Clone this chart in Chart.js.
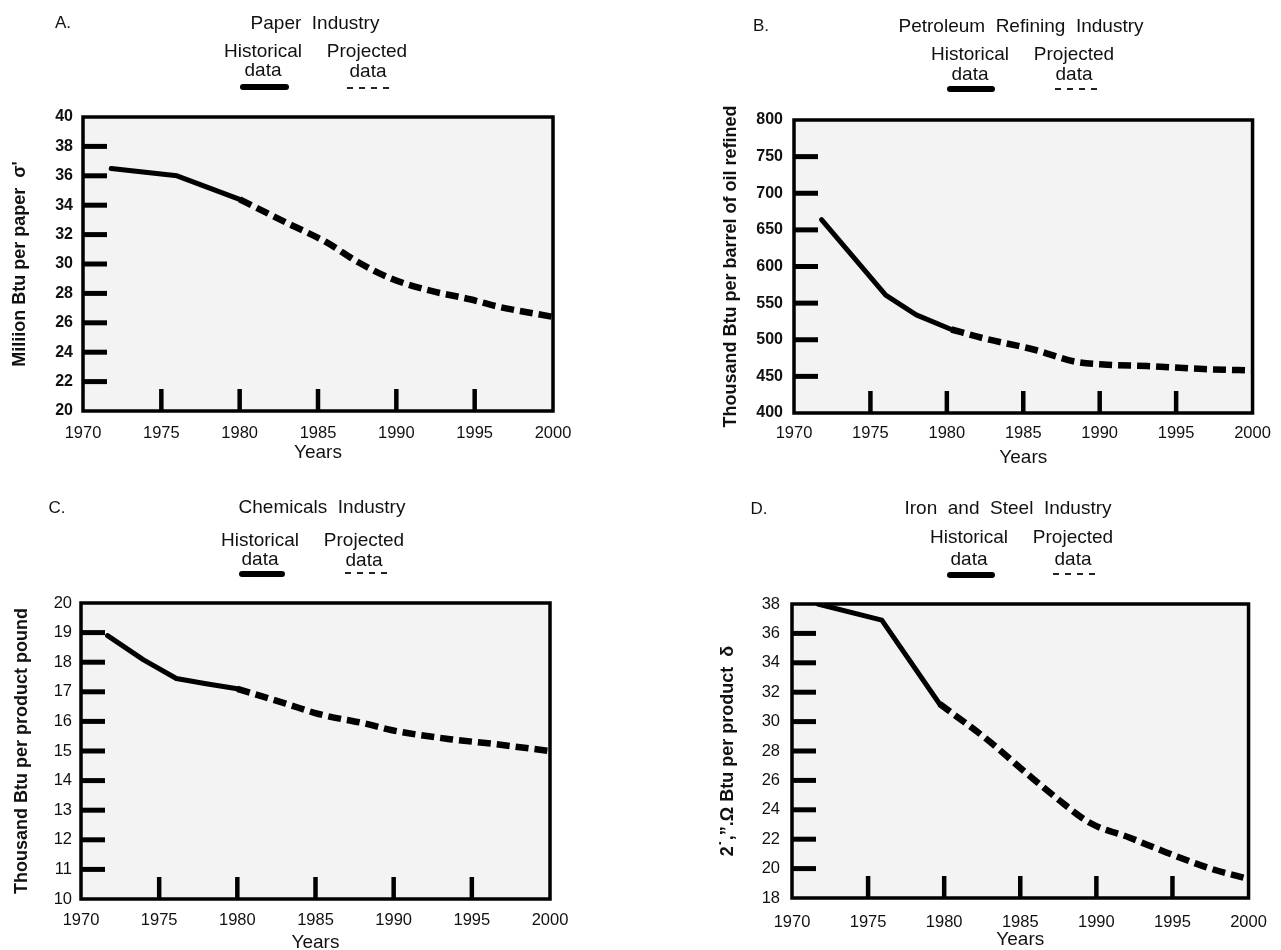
<!DOCTYPE html>
<html><head><meta charset="utf-8">
<script src="https://cdn.jsdelivr.net/npm/chart.js@4.4.1/dist/chart.umd.min.js"></script>
<style>
html,body{margin:0;padding:0;background:#fff;width:1281px;height:950px;overflow:hidden;position:relative;font-family:"Liberation Sans",Arial,sans-serif;}
canvas{position:absolute;}
.t{position:absolute;transform:translate(-50%,-50%);white-space:pre;font-size:19px;line-height:1;color:#111;}
.n{font-size:17px;}
.sw{position:absolute;height:6px;background:#000;border-radius:3px;transform:translateY(-50%);}
.dw{position:absolute;height:2px;transform:translateY(-50%);background:repeating-linear-gradient(90deg,#222 0 6px,transparent 6px 12px);}
</style></head><body>
<script>
// ---- data ----
const xTicks = [1970, 1975, 1980, 1985, 1990, 1995, 2000];

const paperYTicks = [20, 22, 24, 26, 28, 30, 32, 34, 36, 38, 40];
const paperHistYears = [1971.8, 1976, 1980];
const paperHist = [36.5, 36.0, 34.4];
const paperProjYears = [1980, 1983, 1985.5, 1987.6, 1989.7, 1992.1, 1994.7, 1996.5, 2000];
const paperProj = [34.4, 32.8, 31.5, 30.1, 29.0, 28.2, 27.6, 27.1, 26.4];

const petroYTicks = [400, 450, 500, 550, 600, 650, 700, 750, 800];
const petroHistYears = [1971.8, 1974, 1976, 1978, 1980.3];
const petroHist = [664, 610, 561, 534, 514];
const petroProjYears = [1980.3, 1982.4, 1985.8, 1988.4, 1990.5, 1993.1, 1996.8, 2000];
const petroProj = [514, 502, 486, 470, 466, 464, 460, 458];

const chemYTicks = [10, 11, 12, 13, 14, 15, 16, 17, 18, 19, 20];
const chemHistYears = [1971.7, 1974, 1976.1, 1978, 1980];
const chemHist = [18.9, 18.08, 17.45, 17.27, 17.1];
const chemProjYears = [1980, 1983.1, 1985.2, 1988.4, 1989.9, 1993.6, 1996.2, 2000];
const chemProj = [17.1, 16.6, 16.25, 15.9, 15.7, 15.4, 15.25, 15.0];

const steelYTicks = [18, 20, 22, 24, 26, 28, 30, 32, 34, 36, 38];
const steelHistYears = [1971.7, 1975.9, 1979.7];
const steelHist = [38.0, 36.9, 31.2];
const steelProjYears = [1979.7, 1982.8, 1985.4, 1987.5, 1989.6, 1992.2, 1994.6, 1997.5, 2000];
const steelProj = [31.2, 28.8, 26.5, 24.7, 23.1, 22.1, 21.1, 20.0, 19.3];

// ---- helpers ----
const SANS = '"Liberation Sans",Arial,sans-serif';
function zip(xs, ys) { return xs.map((x, i) => ({x: x, y: ys[i]})); }
function txt(s, x, y, cls) {
  const d = document.createElement('div');
  d.className = 't' + (cls ? ' ' + cls : '');
  d.textContent = s; d.style.left = x + 'px'; d.style.top = y + 'px';
  document.body.appendChild(d);
}
function bar(cls, x1, x2, y) {
  const d = document.createElement('div');
  d.className = cls; d.style.left = x1 + 'px'; d.style.width = (x2 - x1) + 'px'; d.style.top = y + 'px';
  document.body.appendChild(d);
}

const framePlugin = {
  id: 'frame',
  beforeDatasetsDraw(chart) {
    const {ctx, chartArea: a, scales: {x, y}} = chart;
    ctx.save();
    ctx.fillStyle = '#f3f3f3';
    ctx.fillRect(a.left, a.top, a.right - a.left, a.bottom - a.top);
    ctx.strokeStyle = '#000';
    ctx.lineCap = 'butt';
    ctx.lineWidth = 5;
    y.ticks.forEach(t => {
      if (t.value === y.min || t.value === y.max) return;
      const py = y.getPixelForValue(t.value);
      ctx.beginPath(); ctx.moveTo(a.left, py); ctx.lineTo(a.left + 24, py); ctx.stroke();
    });
    ctx.lineWidth = 4.5;
    x.ticks.forEach(t => {
      if (t.value === x.min || t.value === x.max) return;
      const px = x.getPixelForValue(t.value);
      ctx.beginPath(); ctx.moveTo(px, a.bottom); ctx.lineTo(px, a.bottom - 22); ctx.stroke();
    });
    ctx.restore();
  },
  afterDatasetsDraw(chart) {
    const {ctx, chartArea: a} = chart;
    ctx.save();
    ctx.strokeStyle = '#000';
    ctx.lineWidth = 3.5;
    ctx.strokeRect(a.left, a.top, a.right - a.left, a.bottom - a.top);
    ctx.restore();
  }
};

function panel(c) {
  const cv = document.createElement('canvas');
  cv.style.left = c.cx + 'px'; cv.style.top = c.cy + 'px';
  document.body.appendChild(cv);
  const L = c.area[0] - c.cx, T = c.area[1] - c.cy, R = c.area[2] - c.cx, B = c.area[3] - c.cy;
  const ch = 475;
  cv.width = c.cw; cv.height = ch;
  new Chart(cv, {
    type: 'line',
    data: {datasets: [
      {data: zip(c.hx, c.hy), borderColor: '#000', borderWidth: 5, pointRadius: 0, tension: 0,
       borderCapStyle: 'round', borderJoinStyle: 'round'},
      {data: zip(c.px, c.py), borderColor: '#000', borderWidth: 6.5, borderDash: [13, 6], pointRadius: 0,
       cubicInterpolationMode: 'monotone'}
    ]},
    options: {
      responsive: false, animation: false, devicePixelRatio: 1,
      layout: {padding: {left: 0, top: T, right: c.cw - R, bottom: 0}},
      plugins: {legend: {display: false}, tooltip: {enabled: false}},
      scales: {
        x: {
          type: 'linear', min: 1970, max: 2000,
          afterBuildTicks: s => { s.ticks = xTicks.map(v => ({value: v})); },
          afterFit: s => { s.height = ch - B; },
          grid: {display: false, drawTicks: false}, border: {display: false},
          ticks: {font: {family: SANS, size: 16.5}, color: '#111', padding: c.xlabY - c.area[3] - 9.9,
                  maxRotation: 0, autoSkip: false, callback: v => String(v)},
          title: {display: true, text: 'Years', color: '#111', font: {family: SANS, size: 19, lineHeight: 1},
                  padding: {top: 0, bottom: (c.cy + ch) - c.yearsY - 9.5}}
        },
        y: {
          type: 'linear', min: c.yt[0], max: c.yt[c.yt.length - 1],
          afterBuildTicks: s => { s.ticks = c.yt.map(v => ({value: v})); },
          afterFit: s => { s.width = L; },
          grid: {display: false, drawTicks: false}, border: {display: false},
          ticks: {font: c.yfont, color: '#111', padding: c.ypad, autoSkip: false, callback: v => String(v)},
          title: {display: true, text: c.ylabel, color: '#111', font: {family: SANS, size: 18, weight: 'bold'},
                  padding: {top: c.ylabX - c.cx - 10.8, bottom: 0}}
        }
      }
    },
    plugins: [framePlugin]
  });
}

const BOLD16 = {family: SANS, size: 16, weight: 'bold'};
const REG16 = {family: SANS, size: 16.5};

panel({cx: 0, cy: 0, cw: 640, area: [83, 117, 553, 411], hx: paperHistYears, hy: paperHist,
  px: paperProjYears, py: paperProj, yt: paperYTicks, yfont: BOLD16, ypad: 10,
  ylabel: "Miliion Btu per paper  \u03c3'", ylabX: 20, xlabY: 433, yearsY: 453});
panel({cx: 640, cy: 0, cw: 641, area: [794, 120, 1263, 413], hx: petroHistYears, hy: petroHist,
  px: petroProjYears, py: petroProj, yt: petroYTicks, yfont: BOLD16, ypad: 11,
  ylabel: 'Thousand Btu per barrel of oil refined', ylabX: 731, xlabY: 433, yearsY: 458});
panel({cx: 0, cy: 475, cw: 640, area: [81, 603, 550, 899], hx: chemHistYears, hy: chemHist,
  px: chemProjYears, py: chemProj, yt: chemYTicks, yfont: REG16, ypad: 9,
  ylabel: 'Thousand Btu per product pound', ylabX: 22, xlabY: 920, yearsY: 943});
panel({cx: 640, cy: 475, cw: 641, area: [792, 604, 1260, 898], hx: steelHistYears, hy: steelHist,
  px: steelProjYears, py: steelProj, yt: steelYTicks, yfont: REG16, ypad: 12,
  ylabel: "2\u02d9,\u201d.\u03a9 Btu per product  \u03b4", ylabX: 728, xlabY: 922, yearsY: 940});

// ---- titles & legends ----
txt('A.', 63, 22, 'n'); txt('Paper  Industry', 315, 22);
txt('Historical', 263, 50); txt('data', 263, 69);
txt('Projected', 367, 50); txt('data', 368, 70);
bar('sw', 240, 289, 87); bar('dw', 347, 391, 88);

txt('B.', 761, 25, 'n'); txt('Petroleum  Refining  Industry', 1021, 25);
txt('Historical', 970, 53); txt('data', 970, 73);
txt('Projected', 1074, 53); txt('data', 1074, 73);
bar('sw', 947, 995, 89); bar('dw', 1055, 1098, 89);

txt('C.', 57, 507, 'n'); txt('Chemicals  Industry', 322, 506);
txt('Historical', 260, 539); txt('data', 260, 558);
txt('Projected', 364, 539); txt('data', 364, 559);
bar('sw', 239, 285, 574); bar('dw', 345, 390, 573);

txt('D.', 759, 508, 'n'); txt('Iron  and  Steel  Industry', 1008, 507);
txt('Historical', 969, 536); txt('data', 969, 558);
txt('Projected', 1073, 536); txt('data', 1073, 558);
bar('sw', 947, 995, 575); bar('dw', 1053, 1098, 574);
</script>
</body></html>
